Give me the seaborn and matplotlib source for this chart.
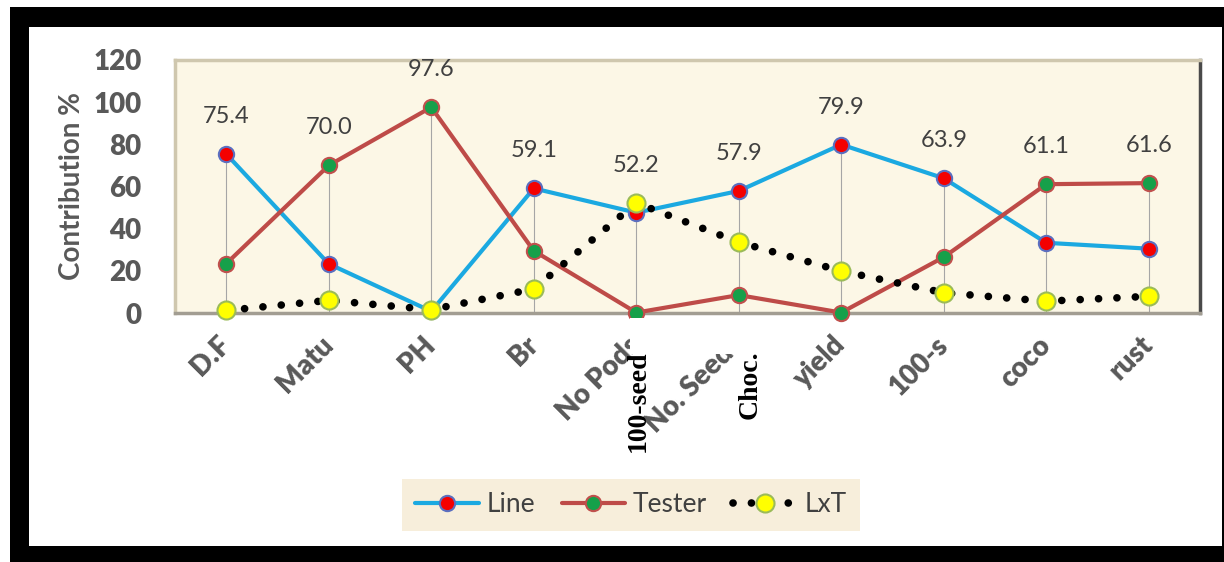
import pandas as pd
import matplotlib.pyplot as plt
import seaborn as sns
from matplotlib.patches import Rectangle

sns.set_style("white")
plt.rcParams['font.family'] = ['Lato', 'DejaVu Sans']

# ----------------------------------------------------------
# Data
# ----------------------------------------------------------
traits = ["D.F", "Matu", "PH", "Br", "No Pods", "No. Seeds", "yield", "100-s", "coco", "rust"]
line_pct = [75.4, 23.3, 0.8, 59.1, 47.6, 57.9, 79.9, 63.9, 33.3, 30.5]
tester_pct = [23.4, 70.0, 97.6, 29.5, 0.2, 8.5, 0.2, 26.5, 61.1, 61.6]
lxt_pct = [1.2, 6.0, 1.6, 11.4, 52.2, 33.6, 19.9, 9.6, 5.6, 7.9]
y_ticks = [0, 20, 40, 60, 80, 100, 120]

df = pd.DataFrame({"trait": traits, "Line": line_pct, "Tester": tester_pct, "LxT": lxt_pct})
top_vals = df[["Line", "Tester", "LxT"]].max(axis=1)

W, H = 1224, 562
fig = plt.figure(figsize=(W / 100, H / 100), dpi=100)
fig.patch.set_facecolor("white")

# black frame + white panel
fig.add_artist(Rectangle((10 / W, 0), (W - 10) / W, 555 / H, transform=fig.transFigure,
                         facecolor="black", edgecolor="none", zorder=-3))
fig.add_artist(Rectangle((29 / W, 16 / H), (1222 - 29) / W, (546 - 27) / H, transform=fig.transFigure,
                         facecolor="white", edgecolor="none", zorder=-2))

ax = fig.add_axes([175 / W, (H - 313) / H, (1200 - 175) / W, (313 - 60) / H])
ax.set_facecolor("#FCF7E6")

# high-low drop lines
ax.vlines(range(len(traits)), 0, top_vals, color="#A6A6A6", linewidth=0.8, zorder=1)

sns.lineplot(data=df, x="trait", y="Line", sort=False, estimator=None, ax=ax,
             color="#1BA9E1", linewidth=3, marker="o", markersize=11,
             markerfacecolor="#F40000", markeredgecolor="#5B6FC0", markeredgewidth=1.5,
             clip_on=False, zorder=3, label="Line")
sns.lineplot(data=df, x="trait", y="Tester", sort=False, estimator=None, ax=ax,
             color="#BE4B48", linewidth=3, marker="o", markersize=11,
             markerfacecolor="#16A04A", markeredgecolor="#C0504D", markeredgewidth=1.5,
             clip_on=False, zorder=3, label="Tester")
sns.lineplot(data=df, x="trait", y="LxT", sort=False, estimator=None, ax=ax,
             color="black", linewidth=5.5, linestyle=(0, (0.01, 2.4)), dash_capstyle="round",
             marker="o", markersize=13, markerfacecolor="#FFFF00",
             markeredgecolor="#9BBB59", markeredgewidth=1.5,
             clip_on=False, zorder=4, label="LxT")

# value labels above the largest component
for i, v in enumerate(top_vals):
    ax.annotate(f"{v:.1f}", (i, v), xytext=(0, 27), textcoords="offset points",
                ha="center", va="center", fontsize=17, color="#404040")

ax.set_xlim(-0.5, len(traits) - 0.5)
ax.set_ylim(0, 120)
ax.set_yticks(y_ticks)
ax.set_xlabel("")
ax.set_ylabel("Contribution %", fontsize=20, fontweight="bold", color="#595959", labelpad=6)
ax.tick_params(axis="y", length=0, pad=24, labelsize=20, labelcolor="#595959")
ax.tick_params(axis="x", length=0, pad=20, labelsize=20, labelcolor="#595959")
for lab in ax.get_yticklabels():
    lab.set_fontweight("heavy")
for lab in ax.get_xticklabels():
    lab.set_fontweight("heavy")
    lab.set_rotation(45)
    lab.set_ha("right")
    lab.set_va("center")
    lab.set_rotation_mode("anchor")

ax.spines["left"].set_color("#CFC7AE")
ax.spines["top"].set_color("#CFC7AE")
ax.spines["right"].set_color("#4A4A4A")
ax.spines["bottom"].set_color("#A29D92")
for s in ax.spines.values():
    s.set_linewidth(2.5)

handles, labels = ax.get_legend_handles_labels()
ax.get_legend().remove()
leg = fig.legend(handles, labels, loc="center", bbox_to_anchor=(631 / W, 1 - 505 / H), ncol=3,
                 frameon=True, facecolor="#F7EEDB", edgecolor="none", fancybox=False,
                 fontsize=19, handlelength=2.4, columnspacing=1.0, handletextpad=0.3,
                 borderpad=0.5)
leg.get_frame().set_alpha(1)
for t in leg.get_texts():
    t.set_color("#404040")

# white patch hiding label ends, and the overlaid vertical captions
fig.add_artist(Rectangle((630 / W, (H - 354) / H), (790 - 630) / W, 36 / H, transform=fig.transFigure,
                         facecolor="white", edgecolor="none", zorder=5))
fig.text(638 / W, 1 - 350 / H, "100-seed", rotation=90, ha="center", va="top",
         family=["Liberation Serif"], fontweight="bold", fontsize=20, color="black", zorder=6)
fig.text(750 / W, 1 - 350 / H, "Choc.", rotation=90, ha="center", va="top",
         family=["Liberation Serif"], fontweight="bold", fontsize=20, color="black", zorder=6)

fig.savefig("out.png", dpi=100, facecolor=fig.get_facecolor())
